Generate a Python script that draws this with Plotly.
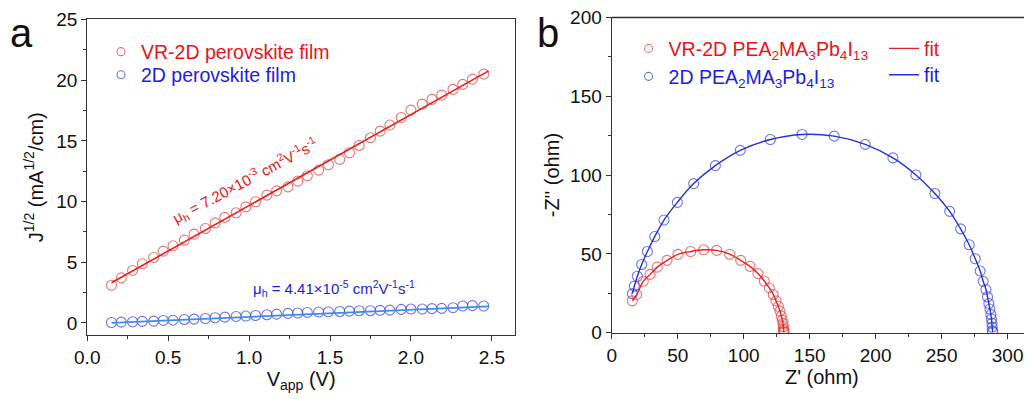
import plotly.graph_objects as go

# ---------------- Panel a data ----------------
v_app = [0.15, 0.21, 0.28, 0.34, 0.41, 0.47, 0.53, 0.60, 0.66, 0.73, 0.79, 0.85,
         0.92, 0.98, 1.04, 1.11, 1.17, 1.24, 1.30, 1.36, 1.43, 1.49, 1.56, 1.62,
         1.68, 1.75, 1.81, 1.87, 1.94, 2.00, 2.07, 2.13, 2.19, 2.26, 2.32, 2.38, 2.45]
j_vr2d = [3.10, 3.71, 4.32, 4.87, 5.39, 5.91, 6.35, 6.82, 7.31, 7.78, 8.24, 8.69,
          9.07, 9.56, 9.98, 10.53, 10.88, 11.21, 11.68, 12.12, 12.59, 13.03, 13.47, 14.02,
          14.62, 15.25, 15.80, 16.30, 16.93, 17.53, 18.03, 18.42, 18.77, 19.24, 19.65, 20.09, 20.50]
j_2d = [0.03, 0.06, 0.09, 0.12, 0.14, 0.20, 0.22, 0.28, 0.31, 0.36, 0.42, 0.47,
        0.53, 0.56, 0.61, 0.67, 0.72, 0.78, 0.81, 0.86, 0.89, 0.91, 0.94, 0.97,
        1.00, 1.00, 1.03, 1.05, 1.11, 1.14, 1.14, 1.17, 1.19, 1.25, 1.39, 1.42, 1.39]
fit_v = [0.15, 2.48]
fit_vr2d = [3.30, 20.77]
fit_2d = [0.00, 1.35]

# ---------------- Panel b data ----------------
zre_vr2d = [15.6, 18.9, 23.9, 29.0, 34.5, 41.9, 50.2, 59.8, 69.7, 79.5, 89.4, 97.7,
            104.8, 110.8, 115.6, 119.4, 122.4, 124.5, 126.2, 127.5, 128.5, 129.3,
            129.8, 130.1, 130.3, 130.3, 130.4, 130.5]
zim_vr2d = [20.2, 24.2, 32.6, 37.0, 41.6, 45.9, 49.7, 51.5, 52.6, 52.2, 49.8, 45.9,
            42.1, 37.5, 32.8, 28.4, 24.2, 20.2, 16.8, 13.7, 10.5, 8.0,
            5.9, 3.8, 2.1, 1.2, 0.6, 0.2]
zre_2d = [15.6, 17.1, 19.4, 22.7, 27.0, 32.6, 39.6, 49.7, 62.1, 78.5, 97.4, 120.2,
          144.2, 168.6, 192.1, 213.1, 230.5, 244.9, 256.1, 264.4, 270.9, 275.5,
          279.2, 281.5, 283.6, 284.8, 285.8, 286.6, 287.3, 287.8, 288.1, 288.3, 288.6, 288.7]
zim_2d = [24.8, 29.5, 35.8, 43.3, 51.5, 61.0, 71.5, 82.7, 94.6, 106.0, 115.7, 122.6,
          125.8, 124.7, 119.5, 110.9, 100.1, 88.3, 77.0, 65.9, 55.8, 46.9,
          39.1, 32.6, 27.4, 22.7, 18.5, 15.0, 11.6, 8.7, 6.0, 3.5, 1.3, 0.4]

RED_M = "rgba(232,70,70,0.75)"
RED_L = "#e3211e"
BLUE_M = "rgba(60,70,225,0.75)"
BLUE_L_A = "#3f8be8"
BLUE_L_B = "#2430d8"
RED_T = "#e8141a"
BLUE_T = "#1a22e0"
AX = "#333333"
FONT = "Liberation Sans, Arial, sans-serif"

fig = go.Figure()

def marker(color, size=10):
    return dict(symbol="circle-open", size=size, color=color, line=dict(width=1.1))

# Panel a
fig.add_trace(go.Scatter(x=v_app, y=j_vr2d, mode="markers", xaxis="x", yaxis="y",
                         marker=marker(RED_M), showlegend=False))
fig.add_trace(go.Scatter(x=v_app, y=j_2d, mode="markers", xaxis="x", yaxis="y",
                         marker=marker(BLUE_M), showlegend=False))
fig.add_trace(go.Scatter(x=fit_v, y=fit_vr2d, mode="lines", xaxis="x", yaxis="y",
                         line=dict(color=RED_L, width=1.6), showlegend=False))
fig.add_trace(go.Scatter(x=fit_v, y=fit_2d, mode="lines", xaxis="x", yaxis="y",
                         line=dict(color=BLUE_L_A, width=1.8), showlegend=False))
# legend-only entries (panel a)
fig.add_trace(go.Scatter(x=[None], y=[None], mode="markers", xaxis="x", yaxis="y",
                         marker=marker(RED_M, 8),
                         name=f"<span style='color:{RED_T}'>VR-2D perovskite film</span>",
                         legend="legend"))
fig.add_trace(go.Scatter(x=[None], y=[None], mode="markers", xaxis="x", yaxis="y",
                         marker=marker(BLUE_M, 8),
                         name=f"<span style='color:{BLUE_T}'>2D perovskite film</span>",
                         legend="legend2"))

# Panel b
fig.add_trace(go.Scatter(x=zre_vr2d, y=zim_vr2d, mode="markers", xaxis="x2", yaxis="y2",
                         marker=marker(RED_M), showlegend=False))
fig.add_trace(go.Scatter(x=zre_2d, y=zim_2d, mode="markers", xaxis="x2", yaxis="y2",
                         marker=marker(BLUE_M), showlegend=False))
fig.add_trace(go.Scatter(x=zre_vr2d, y=zim_vr2d, mode="lines", xaxis="x2", yaxis="y2",
                         line=dict(color=RED_L, width=1.4, shape="spline"),
                         name=f"<span style='color:{RED_T}'>fit</span>", legend="legend5"))
fig.add_trace(go.Scatter(x=zre_2d, y=zim_2d, mode="lines", xaxis="x2", yaxis="y2",
                         line=dict(color=BLUE_L_B, width=1.4, shape="spline"),
                         name=f"<span style='color:{BLUE_T}'>fit</span>", legend="legend6"))
fig.add_trace(go.Scatter(x=[None], y=[None], mode="markers", xaxis="x2", yaxis="y2",
                         marker=marker(RED_M, 8),
                         name=f"<span style='color:{RED_T}'>VR-2D PEA<sub>2</sub>MA<sub>3</sub>Pb<sub>4</sub>I<sub>13</sub></span>",
                         legend="legend3"))
fig.add_trace(go.Scatter(x=[None], y=[None], mode="markers", xaxis="x2", yaxis="y2",
                         marker=marker(BLUE_M, 8),
                         name=f"<span style='color:{BLUE_T}'>2D PEA<sub>2</sub>MA<sub>3</sub>Pb<sub>4</sub>I<sub>13</sub></span>",
                         legend="legend4"))

def axis(**kw):
    d = dict(showline=True, linecolor=AX, linewidth=1.3, ticks="outside", ticklen=5,
             tickwidth=1.2, tickcolor=AX, showgrid=False, zeroline=False, automargin=False,
             ticklabeloverflow="allow",
             tickfont=dict(size=19, color="#111", family=FONT))
    d.update(kw)
    return d

minor_style = dict(ticks="outside", ticklen=3, tickwidth=1.1, tickcolor=AX)

def leg(x, y):
    return dict(x=x, y=y, xanchor="left", yanchor="middle", bgcolor="rgba(0,0,0,0)",
                font=dict(size=19.5, family=FONT), itemwidth=30)

XD2 = [0.5896, 1.0]
YD2 = [0.1696, 0.9757]

# The page body has an 8 px margin, so the figure is 1024x391 placed at (8, 8).
fig.update_layout(
    width=1024, height=391,
    paper_bgcolor="white", plot_bgcolor="white",
    margin=dict(l=0, r=0, t=0, b=0, autoexpand=False),
    font=dict(family=FONT, color="#111"),
    xaxis=axis(domain=[0.0774, 0.4951], range=[0, 2.643], dtick=0.5, tickformat=".1f",
               mirror=True, anchor="y", minor=dict(dtick=0.25, **minor_style),
               title=dict(text="V<sub>app</sub> (V)", font=dict(size=20), standoff=4)),
    yaxis=axis(domain=[0.1637, 0.9706], range=[-1, 25], dtick=5, mirror=True, anchor="x",
               minor=dict(dtick=2.5, **minor_style),
               title=dict(text="J<sup>1/2</sup> (mA<sup>1/2</sup>/cm)", font=dict(size=20), standoff=7)),
    xaxis2=axis(domain=XD2, range=[0, 318.5], dtick=50, mirror=True, anchor="y2",
                minor=dict(dtick=25, **minor_style),
                title=dict(text="Z' (ohm)", font=dict(size=20), standoff=4)),
    yaxis2=axis(domain=YD2, range=[0, 200], dtick=50, mirror=False, anchor="x2",
                minor=dict(dtick=25, **minor_style),
                title=dict(text="-Z'' (ohm)", font=dict(size=20), standoff=5)),
    legend=leg(0.0908, 0.8875),
    legend2=leg(0.0908, 0.8286),
    legend3=leg(0.606, 0.8959),
    legend4=leg(0.606, 0.8243),
    legend5=leg(0.8555, 0.8959),
    legend6=leg(0.8555, 0.8286),
    showlegend=True,
)

# top frame line of panel b (frame only)
fig.add_shape(type="line", xref="paper", yref="paper", x0=XD2[0], x1=XD2[1], y0=YD2[1], y1=YD2[1],
              line=dict(color=AX, width=1.3), layer="above")

fig.add_annotation(xref="x", yref="y", x=0.975, y=11.76, showarrow=False, textangle=-28,
                   text="μ<sub>h</sub> = 7.20×10<sup>-3</sup> cm<sup>2</sup>V<sup>-1</sup>s<sup>-1</sup>",
                   font=dict(size=15, color=RED_T, family=FONT))
fig.add_annotation(xref="x", yref="y", x=1.525, y=2.86, showarrow=False,
                   text="μ<sub>h</sub> = 4.41×10<sup>-5</sup> cm<sup>2</sup>V<sup>-1</sup>s<sup>-1</sup>",
                   font=dict(size=15, color=BLUE_T, family=FONT))
fig.add_annotation(xref="paper", yref="paper", x=0.0127, y=0.936, xanchor="center", yanchor="middle",
                   showarrow=False, text="a", font=dict(size=40, color="#111", family=FONT))
fig.add_annotation(xref="paper", yref="paper", x=0.5273, y=0.936, xanchor="center", yanchor="middle",
                   showarrow=False, text="b", font=dict(size=40, color="#111", family=FONT))

fig.write_html("out.html", config={"displayModeBar": False})
